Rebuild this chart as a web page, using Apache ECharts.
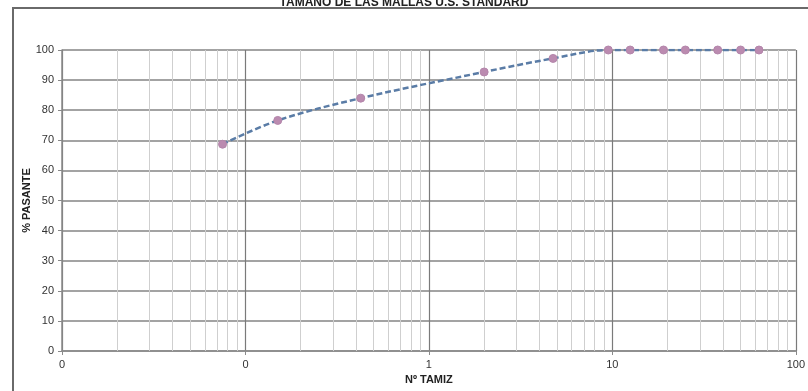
<!DOCTYPE html>
<html>
<head>
<meta charset="utf-8">
<script src="https://cdn.jsdelivr.net/npm/echarts@6/dist/echarts.min.js"></script>
<style>
html,body{margin:0;padding:0;background:#fff;}
#c{width:808px;height:391px;}
</style>
</head>
<body>
<div id="c"></div>
<script>
// Data
var titleText = 'TAMAÑO DE LAS MALLAS U.S. STANDARD';
var xAxisName = 'Nº TAMIZ';
var yAxisName = '% PASANTE';
var sieveSizes = [0.075, 0.15, 0.425, 2.0, 4.75, 9.5, 12.5, 19, 25, 37.5, 50, 63];
var percentPassing = [68.7, 76.6, 84.0, 92.7, 97.2, 100, 100, 100, 100, 100, 100, 100];
var xTickLabels = {'0.01': '0', '0.1': '0', '1': '1', '10': '10', '100': '100'};
var minorGridValues = [0.02,0.03,0.04,0.05,0.06,0.07,0.08,0.09,
                       0.2,0.3,0.4,0.5,0.6,0.7,0.8,0.9,
                       2,3,4,5,6,7,8,9,
                       20,30,40,50,60,70,80,90];

var chart = echarts.init(document.getElementById('c'), null, {renderer: 'canvas'});
var points = sieveSizes.map(function (s, i) { return [s, percentPassing[i]]; });

function fmtX(v) {
  var k = String(+v.toPrecision(6));
  return xTickLabels[k] !== undefined ? xTickLabels[k] : k;
}

chart.setOption({
  animation: false,
  backgroundColor: '#ffffff',
  title: {
    text: titleText,
    left: 'center',
    top: -9,
    textStyle: {fontFamily: 'Liberation Sans', fontWeight: 'bold', fontSize: 12, color: '#222', lineHeight: 14}
  },
  graphic: [{
    type: 'rect',
    shape: {x: 13, y: 8, width: 810, height: 400},
    style: {fill: 'none', stroke: '#6a6a6a', lineWidth: 2},
    z: 100, silent: true
  }],
  grid: {left: 62, right: 8, top: 50, bottom: 40, containLabel: false},
  xAxis: {
    type: 'log',
    logBase: 10,
    min: 0.01,
    max: 100,
    name: xAxisName,
    nameLocation: 'middle',
    nameGap: 22,
    nameTextStyle: {fontFamily: 'Liberation Sans Narrow, Liberation Sans', fontWeight: 'bold', fontSize: 11, color: '#222'},
    axisLine: {show: true, lineStyle: {color: '#8a8a8a', width: 1.5}},
    axisTick: {show: true, length: 4, lineStyle: {color: '#8a8a8a'}},
    axisLabel: {formatter: fmtX, fontFamily: 'Liberation Sans', fontSize: 11, color: '#333', margin: 8},
    splitLine: {show: true, lineStyle: {color: '#7a7a7a', width: 1.2}}
  },
  yAxis: {
    type: 'value',
    min: 0,
    max: 100,
    interval: 10,
    name: yAxisName,
    nameLocation: 'middle',
    nameGap: 30,
    nameMoveOverlap: false,
    nameRotate: 90,
    nameTextStyle: {fontFamily: 'Liberation Sans', fontWeight: 'bold', fontSize: 11, color: '#222'},
    axisLine: {show: true, lineStyle: {color: '#8a8a8a', width: 1.5}},
    axisTick: {show: true, length: 4, lineStyle: {color: '#8a8a8a'}},
    axisLabel: {fontFamily: 'Liberation Sans', fontSize: 11, color: '#333', margin: 8},
    splitLine: {show: true, lineStyle: {color: '#858585', width: 1.5}}
  },
  series: [{
    type: 'line',
    data: [],
    z: 1,
    silent: true,
    markLine: {
      silent: true,
      symbol: 'none',
      animation: false,
      label: {show: false},
      lineStyle: {color: '#cfcfcf', width: 1, type: 'solid'},
      data: minorGridValues.map(function (v) { return {xAxis: v}; })
    }
  }, {
    type: 'line',
    data: points,
    z: 5,
    smooth: 0.35,
    symbol: 'circle',
    symbolSize: 8,
    itemStyle: {color: '#bb8bb0', borderColor: '#b486ab', borderWidth: 1},
    lineStyle: {color: '#5a7ca6', width: 2.5, type: [6, 3]}
  }]
});
</script>
</body>
</html>
